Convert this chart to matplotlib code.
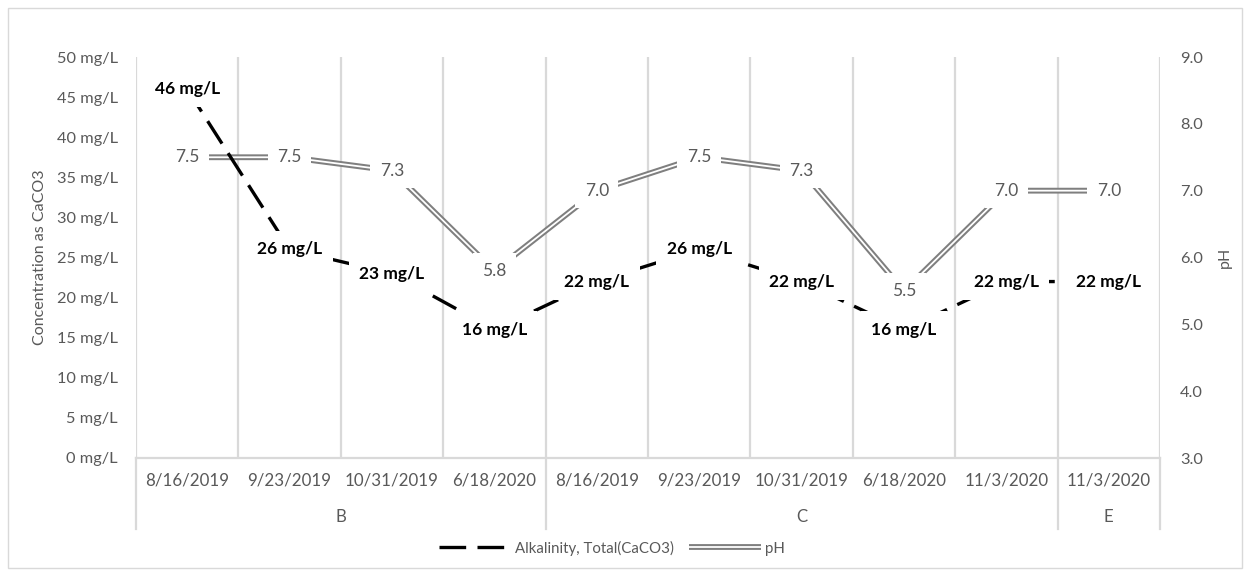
import matplotlib
matplotlib.use("Agg")
import matplotlib.pyplot as plt
from matplotlib.lines import Line2D
from matplotlib.legend_handler import HandlerTuple

# ---- data ----
dates = ["8/16/2019", "9/23/2019", "10/31/2019", "6/18/2020",
         "8/16/2019", "9/23/2019", "10/31/2019", "6/18/2020", "11/3/2020",
         "11/3/2020"]
groups = ["B", "C", "E"]
group_sizes = [4, 5, 1]
alkalinity = [46, 26, 23, 16, 22, 26, 22, 16, 22, 22]
ph = [7.5, 7.5, 7.3, 5.8, 7.0, 7.5, 7.3, 5.5, 7.0, 7.0]
left_ticks = [0, 5, 10, 15, 20, 25, 30, 35, 40, 45, 50]
right_ticks = [3.0, 4.0, 5.0, 6.0, 7.0, 8.0, 9.0]

FONT = "Lato"
GRID = "#d9d9d9"
TICK = "#595959"
PHC = "#7f7f7f"

plt.rcParams["font.family"] = [FONT, "DejaVu Sans"]

W, H = 1250, 577
fig = plt.figure(figsize=(W / 100, H / 100), dpi=100)

# outer chart border
fig.add_artist(plt.Rectangle((8 / W, 1 - 568 / H), (1242 - 8) / W, (568 - 8) / H,
                             transform=fig.transFigure, fill=False,
                             edgecolor=GRID, linewidth=1.0))

x0, x1, y_top, y_bot = 136, 1160, 57, 458
rect = [x0 / W, 1 - y_bot / H, (x1 - x0) / W, (y_bot - y_top) / H]
ax = fig.add_axes(rect)
ax2 = ax.twinx()
ax.set_zorder(2)
ax2.set_zorder(1)
ax.patch.set_visible(False)

n = len(dates)
xs = [i + 0.5 for i in range(n)]
ax.set_xlim(0, n)
ax.set_ylim(0, 50)
ax2.set_ylim(3, 9)

# vertical gridlines at category boundaries (below the series)
ax2.vlines(range(n + 1), 0, 1, transform=ax2.get_xaxis_transform(),
           colors=GRID, linewidth=1.6, zorder=0)

# pH as a double (compound) line
ax2.plot(xs, ph, color=PHC, linewidth=4.2, solid_capstyle="butt",
         solid_joinstyle="miter", zorder=2)
ax2.plot(xs, ph, color="white", linewidth=1.3, solid_capstyle="butt",
         solid_joinstyle="miter", zorder=3)

# alkalinity as a long-dashed line
alk_line, = ax.plot(xs, alkalinity, color="black", linewidth=2.4,
                    dashes=(8, 3.4), solid_capstyle="butt",
                    dash_capstyle="butt", zorder=3)

# data labels with white fill
alk_box = dict(boxstyle="square,pad=0.6", facecolor="white", edgecolor="none")
ph_box = dict(boxstyle="square,pad=0.55", facecolor="white", edgecolor="none")
for x, v in zip(xs, alkalinity):
    ax.text(x, v, f"{v} mg/L", ha="center", va="center", fontsize=12.5,
            fontweight="bold", color="black", bbox=alk_box, zorder=6)
for x, v in zip(xs, ph):
    ax.text(x, v, f"{v:.1f}", ha="center", va="center", fontsize=12.5,
            color=TICK, bbox=ph_box, zorder=5, transform=ax2.transData)

# axes styling
for a in (ax, ax2):
    for s in ("top", "left", "right", "bottom"):
        a.spines[s].set_visible(False)
ax.axhline(0, color=GRID, linewidth=1.6, zorder=1, clip_on=False)

ax.set_yticks(left_ticks)
ax.set_yticklabels([f"{t} mg/L" for t in left_ticks])
ax2.set_yticks(right_ticks)
ax2.set_yticklabels([f"{t:.1f}" for t in right_ticks])
for a in (ax, ax2):
    a.tick_params(axis="y", length=0, labelsize=11.8, labelcolor=TICK)
ax.tick_params(axis="y", pad=13)
ax2.tick_params(axis="y", pad=14.4)
ax.set_xticks([])

# axis titles
ax.text((40 - x0) / (x1 - x0), 0.5, "Concentration as CaCO3",
        transform=ax.transAxes, rotation=90, ha="center", va="center",
        fontsize=11.5, color=TICK)
ax.text((1225 - x0) / (x1 - x0), 0.5, "pH", transform=ax.transAxes,
        rotation=90, ha="center", va="center", fontsize=11.5, color=TICK)

# multi-level category axis
xt = ax.get_xaxis_transform()
h_px = y_bot - y_top


def fy(py):
    return -(py - y_bot) / h_px


for x, d in zip(xs, dates):
    ax.text(x, fy(481), d, transform=xt, ha="center", va="center",
            fontsize=12.2, color=TICK, clip_on=False)

start = 0
bounds = [0]
for g, sz in zip(groups, group_sizes):
    ax.text(start + sz / 2, fy(517), g, transform=xt, ha="center",
            va="center", fontsize=12.2, color=TICK, clip_on=False)
    start += sz
    bounds.append(start)
for b in bounds:
    ax.plot([b, b], [0, fy(529)], transform=xt, color=GRID, linewidth=1.6,
            clip_on=False, zorder=1)

# legend
ph_outer = Line2D([], [], color=PHC, linewidth=4.2, solid_capstyle="butt")
ph_inner = Line2D([], [], color="white", linewidth=1.3, solid_capstyle="butt")
leg = fig.legend([alk_line, (ph_outer, ph_inner)],
                 ["Alkalinity, Total(CaCO3)", "pH"],
                 handler_map={tuple: HandlerTuple(ndivide=1)},
                 loc="center", bbox_to_anchor=(612 / W, 1 - 548 / H),
                 ncol=2, frameon=False, fontsize=10.8, handlelength=4.8,
                 columnspacing=1.0, handletextpad=0.3)
for t in leg.get_texts():
    t.set_color(TICK)

fig.savefig("out.png", dpi=100)
